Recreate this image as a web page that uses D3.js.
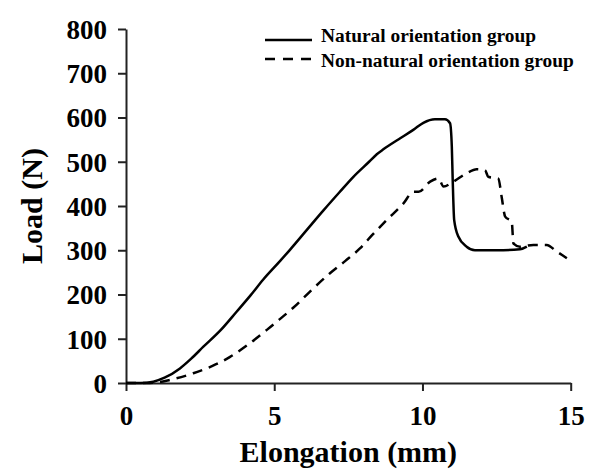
<!DOCTYPE html>
<html>
<head>
<meta charset="utf-8">
<script src="https://cdn.jsdelivr.net/npm/d3@7"></script>
<style>
  body { margin: 0; background: #fff; }
  svg { display: block; }
</style>
</head>
<body>
<svg id="chart" width="601" height="475"></svg>
<script>
// Data
const seriesNames = ["Natural orientation group", "Non-natural orientation group"];

const naturalX = [0, 0.5, 0.92, 1.3, 1.82, 2.2, 2.61, 3.2, 3.73, 4.2, 4.63, 5.2, 5.53, 6.1, 6.66, 7.2, 7.67, 8.2, 8.46, 8.68, 9.2, 9.69, 10.03, 10.42, 10.76, 10.93, 10.99, 11.02, 11.07, 11.21, 11.49, 11.77, 12.5, 13.29, 13.52];
const naturalY = [0, 0, 3, 12, 33, 55, 82, 120, 161, 198, 234, 276, 301, 346, 390, 431, 466, 500, 517, 528, 551, 572, 588, 596, 596, 587, 534, 459, 368, 331, 308, 300, 300, 302, 308];

const nonNaturalX = [0, 0.8, 1.48, 2.27, 2.9, 3.51, 4.1, 4.75, 5.2, 5.64, 6.32, 6.88, 7.4, 7.89, 8.3, 8.79, 9.36, 9.69, 9.87, 10.26, 10.54, 10.71, 11.04, 11.49, 11.83, 12.11, 12.22, 12.56, 12.67, 12.79, 13.01, 13.07, 13.29, 13.74, 14.19, 14.53, 14.87];
const nonNaturalY = [0, 0, 7, 22, 38, 59, 86, 120, 145, 170, 214, 248, 276, 304, 334, 368, 406, 432, 432, 455, 462, 444, 455, 474, 483, 481, 466, 462, 421, 376, 365, 315, 308, 312, 312, 297, 282];

const xTicks = [0, 5, 10, 15];
const yTicks = [0, 100, 200, 300, 400, 500, 600, 700, 800];
const xTitle = "Elongation (mm)";
const yTitle = "Load (N)";

const svg = d3.select("#chart");
const font = "'Liberation Serif', 'Times New Roman', serif";

const x = d3.scaleLinear().domain([0, 15]).range([126, 570.7]);
const y = d3.scaleLinear().domain([0, 800]).range([383, 29]);

// Axes
const xAxis = svg.append("g")
  .attr("transform", `translate(0,${y(0)})`)
  .call(d3.axisBottom(x).tickValues(xTicks).tickSize(8).tickSizeOuter(0).tickFormat(d3.format("d")));
xAxis.selectAll("text")
  .attr("y", 42).attr("dy", 0);

const yAxis = svg.append("g")
  .attr("transform", `translate(${x(0)},0)`)
  .call(d3.axisLeft(y).tickValues(yTicks).tickSize(8).tickSizeOuter(0).tickFormat(d3.format("d")));
yAxis.selectAll("text")
  .attr("x", -19).attr("dy", "0.35em");

svg.selectAll(".domain, .tick line")
  .attr("stroke", "#222").attr("stroke-width", 2);
svg.selectAll(".tick text")
  .attr("font-family", font).attr("font-weight", "bold")
  .attr("font-size", 27).attr("fill", "#000");

// Axis titles
svg.append("text")
  .attr("x", (x(0) + x(15)) / 2).attr("y", 462)
  .attr("text-anchor", "middle")
  .attr("font-family", font).attr("font-weight", "bold").attr("font-size", 30)
  .text(xTitle);

svg.append("text")
  .attr("transform", `translate(42,${(y(0) + y(800)) / 2}) rotate(-90)`)
  .attr("text-anchor", "middle")
  .attr("font-family", font).attr("font-weight", "bold").attr("font-size", 30)
  .text(yTitle);

// Lines
const line = d3.line()
  .x(d => x(d[0])).y(d => y(d[1]))
  .curve(d3.curveMonotoneX);

const naturalData = naturalX.map((v, i) => [v, naturalY[i]]);
const nonNaturalData = nonNaturalX.map((v, i) => [v, nonNaturalY[i]]);

svg.append("path")
  .datum(nonNaturalData)
  .attr("d", line)
  .attr("fill", "none").attr("stroke", "#000")
  .attr("stroke-width", 2.5).attr("stroke-dasharray", "10,7");

svg.append("path")
  .datum(naturalData)
  .attr("d", line)
  .attr("fill", "none").attr("stroke", "#000")
  .attr("stroke-width", 2.5);

// Legend
const legend = svg.append("g");
const legendRows = [
  { name: seriesNames[0], dash: null, ly: 40, ty: 42 },
  { name: seriesNames[1], dash: "10,8", ly: 59, ty: 66.5 }
];
legendRows.forEach(r => {
  legend.append("line")
    .attr("x1", 265).attr("x2", 312).attr("y1", r.ly).attr("y2", r.ly)
    .attr("stroke", "#000").attr("stroke-width", 2.5)
    .attr("stroke-dasharray", r.dash);
  legend.append("text")
    .attr("x", 321).attr("y", r.ty)
    .attr("font-family", font).attr("font-weight", "bold").attr("font-size", 19.4)
    .text(r.name);
});
</script>
</body>
</html>
